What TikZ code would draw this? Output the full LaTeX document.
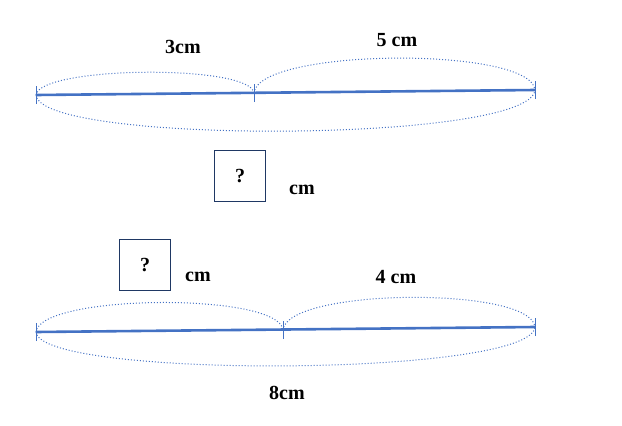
\documentclass[tikz,border=0pt]{standalone}
\usepackage{fontspec}
\setmainfont{Liberation Serif}
\begin{document}
\begin{tikzpicture}[x=1pt,y=-1pt,
  seg/.style={draw=blue!55!cyan!60!black,line width=2.6pt,color={rgb,255:red,68;green,114;blue,196}},
  tick/.style={draw,color={rgb,255:red,68;green,114;blue,196},line width=1pt},
  arc/.style={draw,color={rgb,255:red,68;green,114;blue,196},dotted,line width=1pt},
  lbl/.style={font=\bfseries\fontsize{20}{24}\selectfont},
  qbox/.style={draw={rgb,255:red,31;green,56;blue,100},line width=1pt,minimum width=51pt,minimum height=51pt,font=\bfseries\fontsize{20}{24}\selectfont}]
\useasboundingbox (0,0) rectangle (622,426);
% top
\coordinate (a1) at (36,95); \coordinate (b1) at (254,93); \coordinate (c1) at (535,90);
\draw[seg] (a1) -- (c1);
\foreach \p in {a1,b1,c1} \draw[tick] ([yshift=-9]\p) -- ([yshift=9]\p);
\draw[arc] (a1) .. controls (40,66) and (250,64) .. (b1);
\draw[arc] (b1) .. controls (258,48) and (531,46) .. (c1);
\draw[arc] (a1) .. controls (40,145) and (531,143) .. (c1);
\node[lbl] (l3) at (183,47) {3cm};
\node[lbl] (l5) at (397,40) {5 cm};
\node[qbox] (q1) at (240,176) {?};
\node[lbl] (cm1) at (302,190) {cm};
% bottom
\coordinate (a2) at (36,332); \coordinate (b2) at (283,330); \coordinate (c2) at (535,327);
\draw[seg] (a2) -- (c2);
\foreach \p in {a2,b2,c2} \draw[tick] ([yshift=-9]\p) -- ([yshift=9]\p);
\draw[arc] (a2) .. controls (40,294) and (279,292) .. (b2);
\draw[arc] (b2) .. controls (287,288) and (531,286) .. (c2);
\draw[arc] (a2) .. controls (40,379) and (531,377) .. (c2);
\node[qbox] (q2) at (145,265) {?};
\node[lbl] (cm2) at (198,277) {cm};
\node[lbl] (l4) at (396,277) {4 cm};
\node[lbl] (l8) at (287,393) {8cm};
\end{tikzpicture}
\end{document}
